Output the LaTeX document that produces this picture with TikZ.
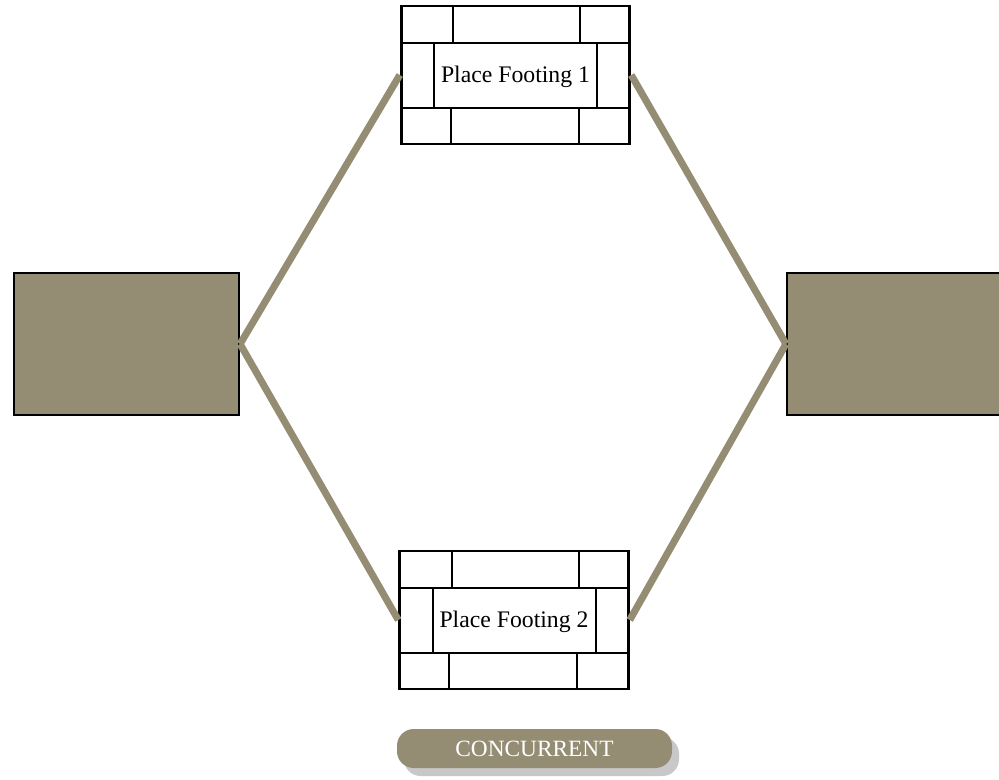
\documentclass[tikz,border=0pt]{standalone}
\usepackage{fontspec}
\setmainfont{Liberation Serif}
\definecolor{olive}{RGB}{148,141,115}
\definecolor{shade}{RGB}{200,200,200}
\tikzset{
  x=0.75pt, y=-0.75pt,
  endbox/.style={draw=black, line width=1.6pt, fill=olive, inner sep=0pt, minimum width=168.75pt, minimum height=106.5pt},
  brick/.style={draw=black, line width=2.1pt, fill=white, inner sep=0pt, minimum width=171.5pt, minimum height=103.5pt, font=\fontsize{17.8pt}{20pt}\selectfont},
  brickline/.style={black, line width=2.1pt},
  conn/.style={olive, line width=5.3pt},
  pill/.style={fill=olive, rounded corners=12.5pt, inner sep=0pt, minimum width=206.25pt, minimum height=29.25pt, text=white, font=\fontsize{17.5pt}{20pt}\selectfont},
  pillshadow/.style={fill=shade, rounded corners=12.5pt, inner sep=0pt, minimum width=206.25pt, minimum height=29.25pt}
}
\begin{document}
\begin{tikzpicture}
\useasboundingbox (0,0) rectangle (999,779);
% end boxes
\node[endbox] (L) at (126.5,344) {};
\node[endbox] (R) at (899.5,344) {};
% brick nodes
\node[brick] (pf1) at (515.5,75) {};
\node[brick] (pf2) at (514,620) {};
% bricks of node 1
\draw[brickline] (401,43) -- (630,43);
\draw[brickline] (401,108) -- (630,108);
\draw[brickline] (453,6) -- (453,43);
\draw[brickline] (580,6) -- (580,43);
\draw[brickline] (434,43) -- (434,108);
\draw[brickline] (597,43) -- (597,108);
\draw[brickline] (451,108) -- (451,144);
\draw[brickline] (579,108) -- (579,144);
% bricks of node 2
\draw[brickline] (400,588) -- (628,588);
\draw[brickline] (400,653) -- (628,653);
\draw[brickline] (452,551) -- (452,588);
\draw[brickline] (579,551) -- (579,588);
\draw[brickline] (433,588) -- (433,653);
\draw[brickline] (596,588) -- (596,653);
\draw[brickline] (449,653) -- (449,689);
\draw[brickline] (577,653) -- (577,689);
% redraw outlines and labels
\node[brick, fill=none] at (pf1) {};
\node[brick, fill=none, draw=none] (t1) at ([yshift=-1.5pt]pf1) {Place Footing 1};
\node[brick, fill=none] at (pf2) {};
\node[brick, fill=none, draw=none] (t2) at ([yshift=-1.5pt]pf2) {Place Footing 2};
% connectors
\draw[conn] (L.east) -- (pf1.west);
\draw[conn] (L.east) -- (pf2.west);
\draw[conn] (pf1.east) -- (R.west);
\draw[conn] (pf2.east) -- (R.west);
% legend pill
\node[pillshadow] (concs) at (541.5,756.5) {};
\node[pill] (conc) at (534.5,748.5) {CONCURRENT};
\end{tikzpicture}
\end{document}
